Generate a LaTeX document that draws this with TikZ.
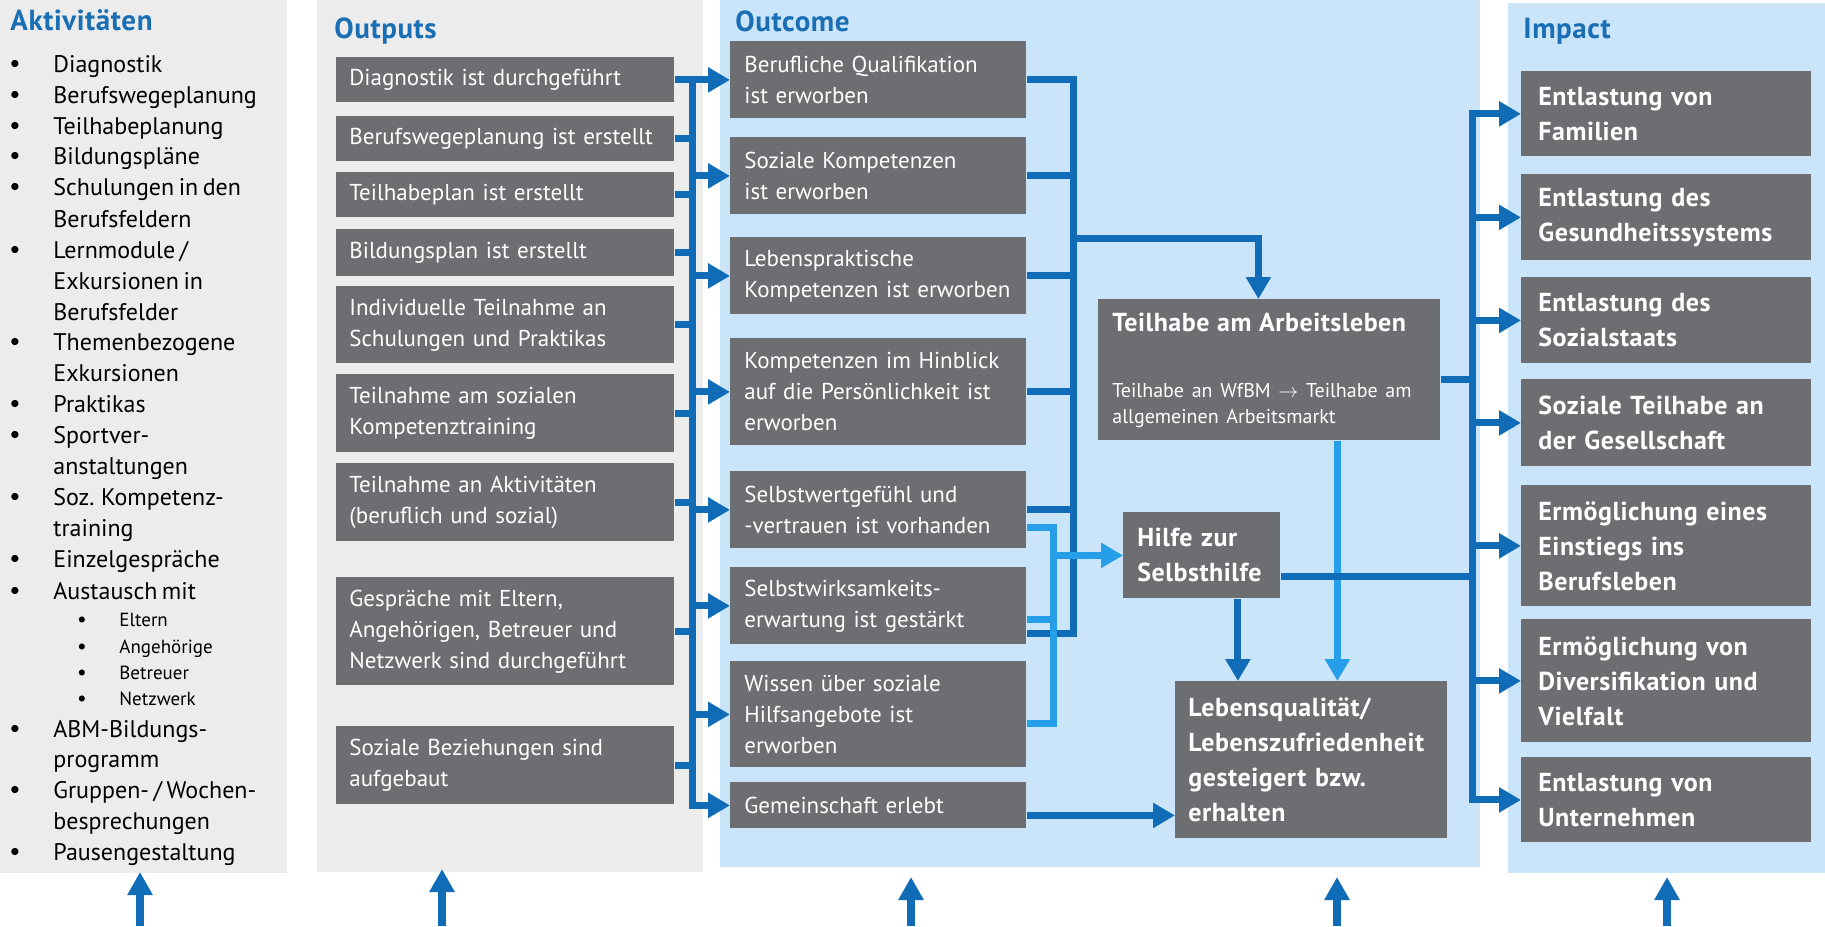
\documentclass[tikz,border=0pt]{standalone}
\usepackage{fontspec}
\setmainfont[WordSpace=0.7, BoldFeatures={LetterSpace=2, WordSpace=1.3}]{PT Sans}
\usetikzlibrary{arrows.meta}
\definecolor{panelgrey}{RGB}{236,236,236}
\definecolor{panelblue}{RGB}{202,229,249}
\definecolor{boxgrey}{RGB}{109,110,114}
\definecolor{headblue}{RGB}{26,110,180}
\definecolor{arrowdark}{RGB}{16,108,182}
\definecolor{arrowlight}{RGB}{38,158,232}
\hyphenpenalty=10000
\exhyphenpenalty=10000
\tikzset{
  head/.style={anchor=base west, inner sep=0pt, text=headblue, font=\bfseries\fontsize{14.5}{17}\selectfont},
  akttext/.style={anchor=base west, inner sep=0pt, font=\fontsize{12}{14}\selectfont},
  aktsub/.style={anchor=base west, inner sep=0pt, font=\fontsize{9.5}{11}\selectfont},
  aktdot/.style={inner sep=0pt, font=\fontsize{9}{9}\selectfont},
  gbox/.style={fill=boxgrey, text=white, anchor=north west, align=left, inner ysep=2pt, font=\fontsize{11.5}{15.5}\selectfont},
  boldtext/.style={font=\bfseries\fontsize{13}{17.5}\selectfont},
  outbox/.style={gbox, inner xsep=6.5pt, text width=156pt},
  ocbox/.style={gbox, inner xsep=7pt, text width=134pt},
  impbox/.style={gbox, boldtext, inner xsep=8.5pt, text width=128pt},
  dline/.style={draw=arrowdark, line width=3.5pt},
  lline/.style={draw=arrowlight, line width=3.5pt},
  darr/.style={dline, -{Triangle[length=11pt,width=12pt]}},
  larr/.style={lline, -{Triangle[length=11pt,width=12pt]}},
  uparr/.style={draw=arrowdark, line width=4pt, -{Triangle[length=11.5pt,width=12pt]}}
}
\begin{document}
\begin{tikzpicture}[x=0.5pt,y=0.5pt,yscale=-1]
\useasboundingbox (0,0) rectangle (1825,926);
% panels
\fill[panelgrey] (0,0) rectangle (287,873);
\fill[panelgrey] (317,0) rectangle (703,872);
\fill[panelblue] (720,0) rectangle (1480,867);
\fill[panelblue] (1508,3) rectangle (1825,873);
\node[head] (hakt) at (10,31) {Aktivitäten};
\node[head] (hout) at (334,39) {Outputs};
\node[head] (hoc) at (735,32) {Outcome};
\node[head] (himp) at (1523,39) {Impact};
% Aktivitaeten
\foreach \y/\t [count=\i] in {72/Diagnostik, 103/Berufswegeplanung, 134/Teilhabeplanung, 164/Bildungspläne,
  195/Schulungen in den, 227/Berufsfeldern, 258/{Lernmodule /}, 289/Exkursionen in, 320/Berufsfelder,
  350/Themenbezogene, 381/Exkursionen, 412/Praktikas, 443/Sportver-, 474/anstaltungen,
  505/Soz. Kompetenz-, 536/training, 567/Einzelgespräche, 599/Austausch mit, 737/ABM-Bildungs-,
  767/programm, 798/{Gruppen- / Wochen-}, 829/besprechungen, 860/Pausengestaltung}
  \node[akttext] (akt\i) at (53,\y) {\t};
\foreach \y in {72,103,134,164,195,258,350,412,443,505,567,599,737,798,860}
  \node[aktdot] at (15,\y-8) {$\bullet$};
\foreach \y/\t [count=\i] in {626/Eltern, 653/Angehörige, 679/Betreuer, 705/Netzwerk}{
  \node[aktsub] (sub\i) at (119,\y) {\t};
  \node[aktdot, font=\fontsize{7.5}{8}\selectfont] at (82,\y-6) {$\bullet$};
}
% Outputs
\node[outbox, minimum height=22.5pt] (o1) at (336,57) {Diagnostik ist durchgeführt};
\node[outbox, minimum height=22.5pt] (o2) at (336,116) {Berufswegeplanung ist erstellt};
\node[outbox, minimum height=22.5pt] (o3) at (336,172) {Teilhabeplan ist erstellt};
\node[outbox, minimum height=23.5pt] (o4) at (336,229) {Bildungsplan ist erstellt};
\node[outbox, minimum height=38.5pt] (o5) at (336,286) {Individuelle Teilnahme an\\Schulungen und Praktikas};
\node[outbox, minimum height=39pt] (o6) at (336,374) {Teilnahme am sozialen\\Kompetenztraining};
\node[outbox, minimum height=39pt] (o7) at (336,463) {Teilnahme an Aktivitäten\\(beruflich und sozial)};
\node[outbox, minimum height=54pt] (o8) at (336,577) {Gespräche mit Eltern,\\Angehörigen, Betreuer und\\Netzwerk sind durchgeführt};
\node[outbox, minimum height=39pt] (o9) at (336,726) {Soziale Beziehungen sind\\aufgebaut};
% Outcome
\node[ocbox, minimum height=38.5pt] (c1) at (730,41) {Berufliche Qualifikation\\ist erworben};
\node[ocbox, minimum height=38.5pt] (c2) at (730,137) {Soziale Kompetenzen\\ist erworben};
\node[ocbox, minimum height=38.5pt] (c3) at (730,237) {Lebenspraktische\\Kompetenzen ist erworben};
\node[ocbox, minimum height=53.5pt] (c4) at (730,338) {Kompetenzen im Hinblick\\auf die Persönlichkeit ist\\erworben};
\node[ocbox, minimum height=38.5pt] (c5) at (730,471) {Selbstwertgefühl und\\-vertrauen ist vorhanden};
\node[ocbox, minimum height=38.5pt] (c6) at (730,567) {Selbstwirksamkeits-\\erwartung ist gestärkt};
\node[ocbox, minimum height=53pt] (c7) at (730,661) {Wissen über soziale\\Hilfsangebote ist\\erworben};
\node[ocbox, minimum height=23pt] (c8) at (730,782) {Gemeinschaft erlebt};
\node[gbox, inner xsep=7pt, text width=157pt, minimum height=70.5pt] (ta) at (1098,299)
  {{\bfseries\fontsize{13}{16}\selectfont Teilhabe am Arbeitsleben\par}\vspace{20pt}%
   {\fontsize{10}{13}\selectfont Teilhabe an WfBM $\rightarrow$ Teilhabe am\\allgemeinen Arbeitsmarkt\par}};
\node[gbox, boldtext, inner xsep=7pt, text width=64.5pt, minimum height=43pt] (hs) at (1123,512) {Hilfe zur\\Selbsthilfe};
\node[gbox, boldtext, inner xsep=6.5pt, text width=123pt, minimum height=78.5pt] (lq) at (1175,681)
  {Lebensqualität/\\Lebenszufriedenheit\\gesteigert bzw.\\erhalten};
% Impact
\node[impbox, minimum height=42.5pt] (i1) at (1521,71) {Entlastung von\\Familien};
\node[impbox, minimum height=43pt] (i2) at (1521,174) {Entlastung des\\Gesundheitssystems};
\node[impbox, minimum height=43pt] (i3) at (1521,277) {Entlastung des\\Sozialstaats};
\node[impbox, minimum height=43.5pt] (i4) at (1521,379) {Soziale Teilhabe an\\der Gesellschaft};
\node[impbox, minimum height=60.5pt] (i5) at (1521,485) {Ermöglichung eines\\Einstiegs ins\\Berufsleben};
\node[impbox, minimum height=61.5pt] (i6) at (1521,619) {Ermöglichung von\\Diversifikation und\\Vielfalt};
\node[impbox, minimum height=42.5pt] (i7) at (1521,757) {Entlastung von\\Unternehmen};
% outputs -> outcome
\coordinate (obus) at (692,0);
\foreach \n in {1,...,9} \draw[dline] (o\n.east) -- (o\n.east -| obus);
\draw[dline, line cap=rect] (c1.west -| obus) -- (c8.west -| obus);
\foreach \n in {1,...,8} \draw[darr] (c\n.west -| obus) -- (c\n.west);
% outcome -> teilhabe
\coordinate (cbus) at (1073,0);
\coordinate (d6) at ([yshift=14pt]c6.east);
\draw[dline] (c1.east) -| (d6 -| cbus) -- (d6);
\foreach \n in {2,...,5} \draw[dline] (c\n.east) -- (c\n.east -| cbus);
\coordinate (tajoin) at (1073,238);
\draw[darr] (tajoin) -| ([xshift=-5.5pt]ta.north);
% outcome -> hilfe zur selbsthilfe
\coordinate (lbus) at (1053,0);
\coordinate (l5) at ([yshift=9pt]c5.east);
\coordinate (l6) at ([yshift=7pt]c6.east);
\coordinate (l7) at ([yshift=4.5pt]c7.east);
\draw[lline] (l5) -| (l7 -| lbus) -- (l7);
\draw[lline] (l6) -- (l6 -| lbus);
\draw[larr] (hs.west -| lbus) -- (hs.west);
% -> lebensqualitaet
\draw[darr] ([xshift=18pt]hs.south) -- ([xshift=18pt]hs.south |- lq.north);
\draw[larr] ([xshift=34pt]ta.south) -- ([xshift=34pt]ta.south |- lq.north);
\coordinate (g8) at ([yshift=5pt]c8.east);
\draw[darr] (g8) -- (g8 -| lq.west);
% -> impact
\coordinate (ibus) at (1472,0);
\draw[dline, line cap=rect] (i1.west -| ibus) -- (i7.west -| ibus);
\foreach \n in {1,...,7} \draw[darr] (i\n.west -| ibus) -- (i\n.west);
\draw[dline] ([yshift=5pt]ta.east) -- ([yshift=5pt]ta.east -| ibus);
\draw[dline] ([yshift=10.5pt]hs.east) -- ([yshift=10.5pt]hs.east -| ibus);
% arrows from below
\foreach \x/\t [count=\i] in {140/872, 442/869, 911/877, 1337/877, 1667/877}{
  \coordinate (bot\i) at (\x,926);
  \coordinate (top\i) at (\x,\t);
  \draw[uparr] (bot\i) -- (top\i);
}
\end{tikzpicture}
\end{document}
